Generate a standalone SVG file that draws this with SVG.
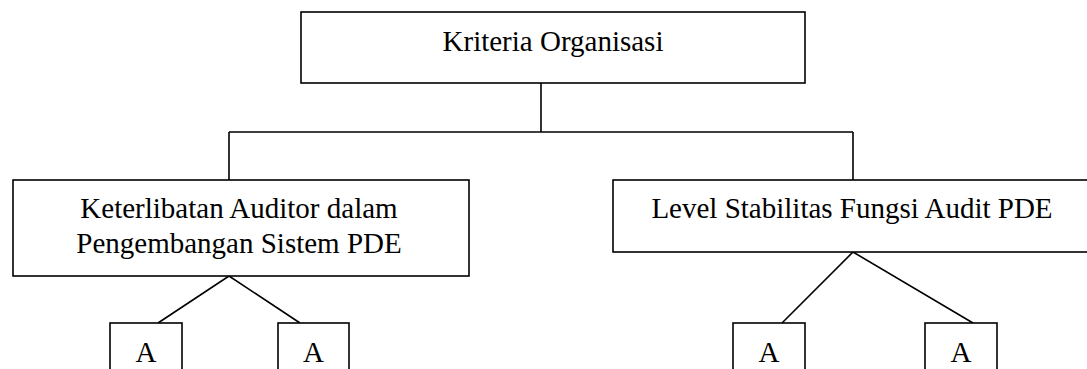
<svg xmlns="http://www.w3.org/2000/svg" width="1087" height="369" viewBox="0 0 1087 369">
<style>
.box{fill:#fff;stroke:#000;stroke-width:1.6}
.ln{fill:none;stroke:#000;stroke-width:1.6}
text{font-family:"Liberation Serif","Times New Roman",serif;font-size:29px;fill:#000;text-anchor:middle}
</style>
<rect width="1087" height="369" fill="#fff"/>
<g id="connectors">
<path class="ln" d="M541 83V132M229 132H853M229 132V180M853 132V180"/>
<path class="ln" d="M158 323L229 276L300 323"/>
<path class="ln" d="M782 323L853 252L973 323"/>
</g>
<g id="root"><rect class="box" x="301" y="12" width="504" height="71"/><text x="553" y="51">Kriteria Organisasi</text></g>
<g id="left"><rect class="box" x="13" y="180" width="456" height="96"/><text x="239" y="218">Keterlibatan Auditor dalam</text><text x="239" y="253">Pengembangan Sistem PDE</text></g>
<g id="right"><rect class="box" x="613" y="180" width="490" height="72"/><text x="852" y="218">Level Stabilitas Fungsi Audit PDE</text></g>
<g id="a1"><rect class="box" x="110" y="323" width="72" height="60"/><text x="146" y="362">A</text></g>
<g id="a2"><rect class="box" x="278" y="323" width="71" height="60"/><text x="313.5" y="362">A</text></g>
<g id="a3"><rect class="box" x="733" y="323" width="72" height="60"/><text x="769" y="362">A</text></g>
<g id="a4"><rect class="box" x="925" y="323" width="72" height="60"/><text x="961" y="362">A</text></g>
</svg>
